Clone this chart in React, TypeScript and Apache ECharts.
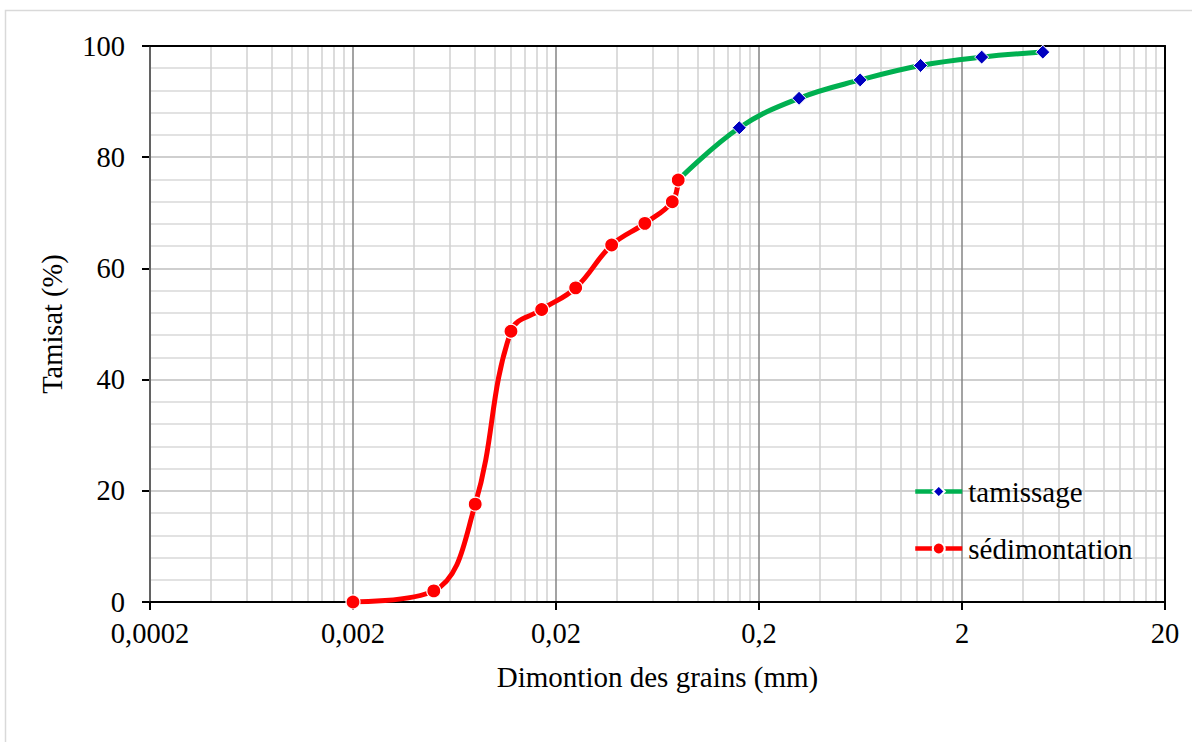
import React, { useEffect, useRef } from "react";
import * as echarts from "echarts";

// Sédimentation (hydrometer) data
const sedDiam = [0.002, 0.005, 0.008, 0.012, 0.017, 0.025, 0.0376, 0.0548, 0.0748, 0.08];
const sedPass = [0, 2.0, 17.6, 48.7, 52.6, 56.5, 64.2, 68.1, 72.0, 75.9];

// Tamissage (sieve) data
const tamDiam = [0.08, 0.16, 0.315, 0.63, 1.25, 2.5, 5];
const tamPass = [75.9, 85.3, 90.6, 93.9, 96.5, 98.0, 98.9];

// Axis ticks
const xMajorTicks = [0.0002, 0.002, 0.02, 0.2, 2, 20];
const xMinorMultipliers = [2, 3, 4, 5, 6, 7, 8, 9];
const yTicks = [0, 20, 40, 60, 80, 100];

const FONT = "'Liberation Serif', 'Times New Roman', serif";

export default function App() {
  const ref = useRef<HTMLDivElement>(null);

  useEffect(() => {
    if (!ref.current) return;
    const chart = echarts.init(ref.current, null, { renderer: "svg" });

    const xMinorTicks: number[] = [];
    for (let i = 0; i < xMajorTicks.length - 1; i++) {
      for (const m of xMinorMultipliers) {
        xMinorTicks.push(parseFloat((xMajorTicks[i] * m).toPrecision(6)));
      }
    }

    const xMin = xMajorTicks[0];
    const xMax = xMajorTicks[xMajorTicks.length - 1];

    const option: any = {
      animation: false,
      backgroundColor: "#ffffff",
      textStyle: { fontFamily: FONT },
      graphic: [
        {
          type: "rect",
          shape: { x: 5.5, y: 10.5, width: 1200, height: 760 },
          style: { fill: "none", stroke: "#D9D9D9", lineWidth: 1.5 },
          silent: true,
          z: -10,
        },
      ],
      grid: { left: 150, right: 27, top: 46, bottom: 140, containLabel: false },
      legend: {
        orient: "vertical",
        left: 908,
        top: 472,
        itemWidth: 47,
        itemHeight: 15,
        itemGap: 28,
        data: ["tamissage", "sédimontation"],
        lineStyle: { width: 4.5 },
        textStyle: { fontFamily: FONT, fontSize: 29, color: "#000", padding: [0, 0, 0, 1] },
      },
      xAxis: [
        {
          // minor grid axis
          type: "log",
          logBase: 10,
          min: xMin,
          max: xMax,
          position: "bottom",
          axisLine: { show: false },
          axisTick: { show: false, customValues: xMinorTicks },
          axisLabel: { show: false, customValues: xMinorTicks },
          splitLine: { show: true, lineStyle: { color: "#D0D0D0", width: 1.5 } },
          z: 0,
        },
        {
          // major axis
          type: "log",
          logBase: 10,
          min: xMin,
          max: xMax,
          position: "bottom",
          name: "Dimontion des grains (mm)",
          nameLocation: "middle",
          nameGap: 60,
          nameTextStyle: { fontFamily: FONT, fontSize: 29, color: "#000" },
          axisLine: { show: true, onZero: false, lineStyle: { color: "#000", width: 2 } },
          axisTick: { show: true, length: 8, inside: false, customValues: xMajorTicks, lineStyle: { color: "#000", width: 2 } },
          axisLabel: {
            show: true,
            customValues: xMajorTicks,
            margin: 17,
            fontFamily: FONT,
            fontSize: 28.5,
            color: "#000",
            formatter: (v: number) => String(v).replace(".", ","),
          },
          splitLine: { show: true, lineStyle: { color: "#858585", width: 1.5 } },
          z: 1,
        },
        {
          // top frame
          type: "log",
          logBase: 10,
          min: xMin,
          max: xMax,
          position: "top",
          axisLine: { show: true, onZero: false, lineStyle: { color: "#000", width: 2 } },
          axisTick: { show: false },
          axisLabel: { show: false },
          splitLine: { show: false },
          z: 2,
        },
      ],
      yAxis: [
        {
          type: "value",
          min: yTicks[0],
          max: yTicks[yTicks.length - 1],
          interval: 20,
          name: "Tamisat (%)",
          nameLocation: "middle",
          nameGap: 83,
          nameRotate: 90,
          nameTextStyle: { fontFamily: FONT, fontSize: 28.5, color: "#000" },
          axisLine: { show: true, onZero: false, lineStyle: { color: "#000", width: 2 } },
          axisTick: { show: true, length: 8, inside: false, lineStyle: { color: "#000", width: 2 } },
          axisLabel: { margin: 25, fontFamily: FONT, fontSize: 28.5, color: "#000" },
          minorTick: { show: false, splitNumber: 5 },
          minorSplitLine: { show: true, lineStyle: { color: "#D9D9D9", width: 1.5 } },
          splitLine: { show: true, lineStyle: { color: "#BFBFBF", width: 1.5 } },
          z: 0,
        },
        {
          type: "value",
          min: 0,
          max: 100,
          position: "right",
          axisLine: { show: true, onZero: false, lineStyle: { color: "#000", width: 2 } },
          axisTick: { show: false },
          axisLabel: { show: false },
          splitLine: { show: false },
          z: 2,
        },
      ],
      series: [
        {
          name: "tamissage",
          type: "line",
          xAxisIndex: 1,
          yAxisIndex: 0,
          data: tamDiam.map((d, i) => [d, tamPass[i]]),
          smooth: 0.4,
          symbol: "diamond",
          symbolSize: 14,
          showAllSymbol: true,
          lineStyle: { color: "#00B050", width: 5 },
          itemStyle: { color: "#0000C0", borderColor: "#ffffff", borderWidth: 1 },
          z: 3,
        },
        {
          name: "sédimontation",
          type: "line",
          xAxisIndex: 1,
          yAxisIndex: 0,
          data: sedDiam.map((d, i) => [d, sedPass[i]]),
          smooth: 0.4,
          symbol: "circle",
          symbolSize: 14,
          showAllSymbol: true,
          lineStyle: { color: "#FF0000", width: 5 },
          itemStyle: { color: "#FF0000", borderColor: "#ffffff", borderWidth: 1.2 },
          z: 4,
        },
      ],
    };

    chart.setOption(option);
    return () => {
      chart.dispose();
    };
  }, []);

  return (
    <div
      ref={ref}
      style={{ position: "absolute", left: 0, top: 0, width: 1192, height: 742 }}
    />
  );
}
